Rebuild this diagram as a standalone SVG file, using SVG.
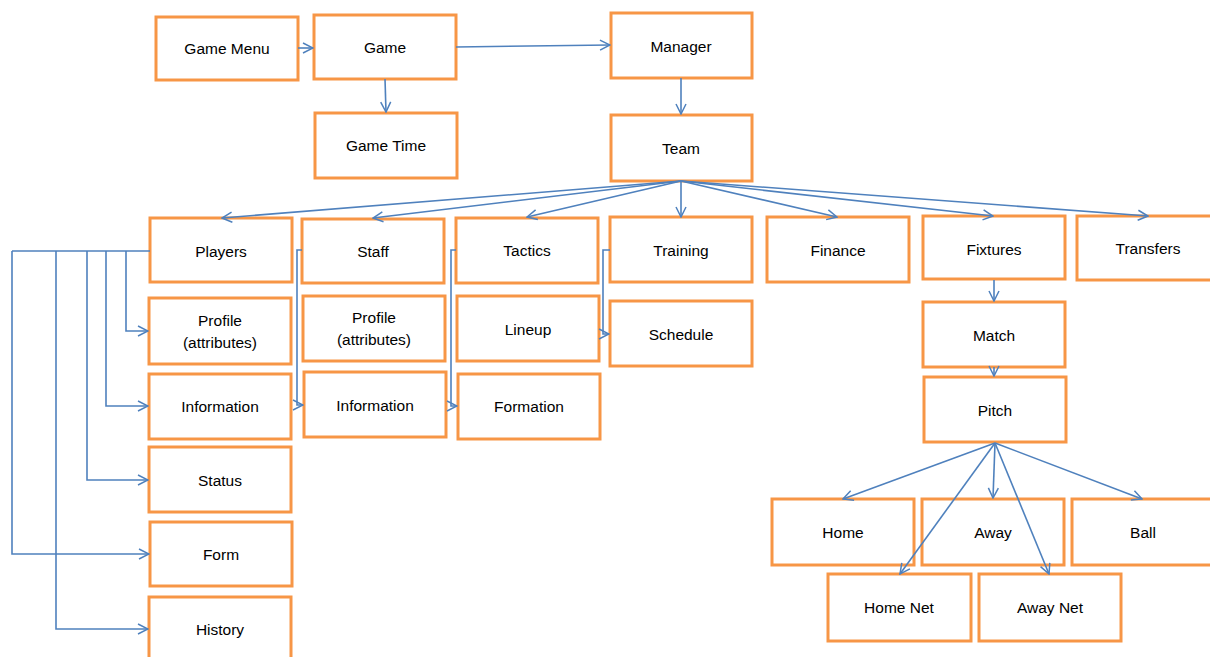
<svg xmlns="http://www.w3.org/2000/svg" width="1210" height="657" viewBox="0 0 1210 657">
<defs>
<marker id="arr" viewBox="0 0 12 12" refX="11" refY="6" markerWidth="12" markerHeight="12" markerUnits="userSpaceOnUse" orient="auto">
<path d="M1,1 L11,6 L1,11" fill="none" stroke="#4F81BD" stroke-width="1.5"/>
</marker>
<style>
.box{fill:#fff;stroke:#F79646;stroke-width:3}
.t{font-family:"Liberation Sans",Arial,sans-serif;font-size:15.5px;fill:#000;text-anchor:middle}
.c{fill:none;stroke:#4F81BD;stroke-width:1.6;marker-end:url(#arr)}
.l{fill:none;stroke:#4F81BD;stroke-width:1.6}
</style>
</defs>
<rect width="1210" height="657" fill="#fff"/>
<g id="gamemenu"><rect class="box" x="156" y="17" width="142" height="63"/><text class="t" x="227" y="54">Game Menu</text></g>
<g id="game"><rect class="box" x="314" y="15" width="142" height="64"/><text class="t" x="385" y="53">Game</text></g>
<g id="gametime"><rect class="box" x="315" y="113" width="142" height="65"/><text class="t" x="386" y="151">Game Time</text></g>
<g id="manager"><rect class="box" x="611" y="13" width="141" height="65"/><text class="t" x="681" y="52">Manager</text></g>
<g id="team"><rect class="box" x="611" y="115" width="141" height="66"/><text class="t" x="681" y="154">Team</text></g>
<g id="players"><rect class="box" x="150" y="218" width="142" height="64"/><text class="t" x="221" y="257">Players</text></g>
<g id="staff"><rect class="box" x="302" y="219" width="142" height="64"/><text class="t" x="373" y="257">Staff</text></g>
<g id="tactics"><rect class="box" x="456" y="218" width="142" height="65"/><text class="t" x="527" y="256">Tactics</text></g>
<g id="training"><rect class="box" x="610" y="217" width="142" height="65"/><text class="t" x="681" y="256">Training</text></g>
<g id="finance"><rect class="box" x="767" y="217" width="142" height="65"/><text class="t" x="838" y="256">Finance</text></g>
<g id="fixtures"><rect class="box" x="923" y="216" width="142" height="63"/><text class="t" x="994" y="255">Fixtures</text></g>
<g id="transfers"><rect class="box" x="1077" y="216" width="140" height="64"/><text class="t" x="1148" y="254">Transfers</text></g>
<g id="profile1"><rect class="box" x="149" y="298" width="142" height="66"/><text class="t" x="220" y="326">Profile</text><text class="t" x="220" y="348">(attributes)</text></g>
<g id="information1"><rect class="box" x="149" y="374" width="142" height="65"/><text class="t" x="220" y="412">Information</text></g>
<g id="status"><rect class="box" x="149" y="447" width="142" height="65"/><text class="t" x="220" y="486">Status</text></g>
<g id="form"><rect class="box" x="150" y="522" width="142" height="64"/><text class="t" x="221" y="560">Form</text></g>
<g id="history"><rect class="box" x="149" y="597" width="142" height="70"/><text class="t" x="220" y="635">History</text></g>
<g id="profile2"><rect class="box" x="303" y="296" width="142" height="65"/><text class="t" x="374" y="323">Profile</text><text class="t" x="374" y="345">(attributes)</text></g>
<g id="information2"><rect class="box" x="304" y="372" width="142" height="65"/><text class="t" x="375" y="411">Information</text></g>
<g id="lineup"><rect class="box" x="457" y="296" width="142" height="65"/><text class="t" x="528" y="335">Lineup</text></g>
<g id="formation"><rect class="box" x="458" y="374" width="142" height="65"/><text class="t" x="529" y="412">Formation</text></g>
<g id="schedule"><rect class="box" x="610" y="301" width="142" height="65"/><text class="t" x="681" y="340">Schedule</text></g>
<g id="match"><rect class="box" x="923" y="302" width="142" height="65"/><text class="t" x="994" y="341">Match</text></g>
<g id="pitch"><rect class="box" x="924" y="377" width="142" height="65"/><text class="t" x="995" y="416">Pitch</text></g>
<g id="home"><rect class="box" x="772" y="499" width="142" height="66"/><text class="t" x="843" y="538">Home</text></g>
<g id="away"><rect class="box" x="922" y="499" width="142" height="66"/><text class="t" x="993" y="538">Away</text></g>
<g id="ball"><rect class="box" x="1072" y="499" width="145" height="66"/><text class="t" x="1143" y="538">Ball</text></g>
<g id="homenet"><rect class="box" x="828" y="574" width="143" height="67"/><text class="t" x="899" y="613">Home Net</text></g>
<g id="awaynet"><rect class="box" x="979" y="574" width="142" height="67"/><text class="t" x="1050" y="613">Away Net</text></g>
<g id="connectors">
<path class="c" d="M298,48 L313,48"/>
<path class="c" d="M385,79 L386,112"/>
<path class="c" d="M456,47 L610,45"/>
<path class="c" d="M681,78 L681,114"/>
<path class="c" d="M681,181 L222,218"/>
<path class="c" d="M681,181 L373,218"/>
<path class="c" d="M681,181 L527,217"/>
<path class="c" d="M681,181 L681,217"/>
<path class="c" d="M681,181 L837,217"/>
<path class="c" d="M681,181 L993,216"/>
<path class="c" d="M681,181 L1148,216"/>
<path class="l" d="M150,251 L12,251"/>
<path class="c" d="M126,251 L126,331 L148,331"/>
<path class="c" d="M106,251 L106,406 L148,406"/>
<path class="c" d="M87,251 L87,480 L148,480"/>
<path class="c" d="M12,251 L12,554 L149,554"/>
<path class="c" d="M56,251 L56,629 L148,629"/>
<path class="c" d="M302,250 L297,250 L297,405 L303,405"/>
<path class="c" d="M456,250 L451,250 L451,406 L457,406"/>
<path class="c" d="M610,250 L603,250 L603,334 L609,334"/>
<path class="c" d="M994,280 L994,301"/>
<path class="c" d="M994,367 L994,376"/>
<path class="c" d="M995,443 L843,499"/>
<path class="c" d="M995,443 L993,498"/>
<path class="c" d="M995,443 L1142,499"/>
<path class="c" d="M995,443 L900,574"/>
<path class="c" d="M995,443 L1049,574"/>
</g>
</svg>
